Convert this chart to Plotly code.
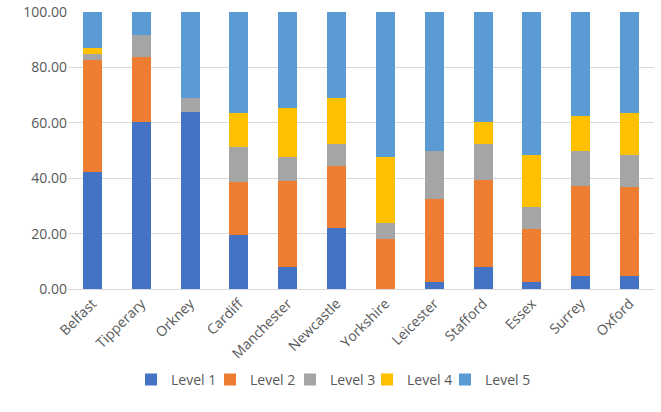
import plotly.graph_objects as go

categories = ["Belfast", "Tipperary", "Orkney", "Cardiff", "Manchester", "Newcastle",
              "Yorkshire", "Leicester", "Stafford", "Essex", "Surrey", "Oxford"]
level1 = [42.3, 60.4, 63.9, 19.6, 7.9, 22.2, 0.0, 2.5, 7.9, 2.5, 4.7, 4.7]
level2 = [40.2, 23.5, 0.0, 19.2, 31.2, 22.2, 18.1, 30.0, 31.4, 19.2, 32.5, 32.0]
level3 = [2.5, 7.9, 5.2, 12.3, 8.4, 8.1, 5.7, 17.5, 13.2, 7.8, 12.8, 11.7]
level4 = [2.1, 0.0, 0.0, 12.3, 18.0, 16.6, 23.7, 0.0, 7.9, 18.9, 12.4, 15.0]
level5 = [12.9, 8.2, 30.9, 36.6, 34.5, 30.9, 52.5, 50.0, 39.6, 51.6, 37.6, 36.6]

names = ["Level 1", "Level 2", "Level 3", "Level 4", "Level 5"]
values = [level1, level2, level3, level4, level5]
colors = ["#4472C4", "#ED7D31", "#A5A5A5", "#FFC000", "#5B9BD5"]
legend_x_px = [131, 210, 290, 367, 445]

fig = go.Figure()
legend_ids = ["legend"] + [f"legend{i}" for i in range(2, 6)]
for name, vals, color, leg in zip(names, values, colors, legend_ids):
    fig.add_trace(go.Bar(x=categories, y=vals, name=name, marker_color=color,
                         marker_line_width=0, legend=leg, showlegend=True))

font = dict(family="Open Sans, Liberation Sans, sans-serif", size=14, color="#595959")
legend_common = dict(orientation="h", xref="container", yref="container",
                     xanchor="left", y=0.078, yanchor="middle", visible=True,
                     font=dict(size=14, color="#595959"), itemwidth=30,
                     bgcolor="rgba(0,0,0,0)")
legends = {leg: dict(legend_common, x=px / 661) for leg, px in zip(legend_ids, legend_x_px)}

fig.update_layout(
    barmode="stack", bargap=0.61,
    width=661, height=412,
    showlegend=True,
    margin=dict(l=68, r=7, t=12, b=123, autoexpand=False),
    paper_bgcolor="white", plot_bgcolor="white",
    font=font,
    xaxis=dict(tickangle=-45, showgrid=False, showline=True, linecolor="#d9d9d9",
               ticks="", tickfont=font, automargin=False),
    yaxis=dict(range=[0, 100], dtick=20, tickformat=".2f", showgrid=True,
               gridcolor="#d9d9d9", zeroline=False, ticks="", tickfont=font,
               automargin=False),
    **legends,
)
fig.write_html("out.html", config={"displayModeBar": False},
               post_script="document.body.style.margin='0';document.body.style.overflow='hidden';")
